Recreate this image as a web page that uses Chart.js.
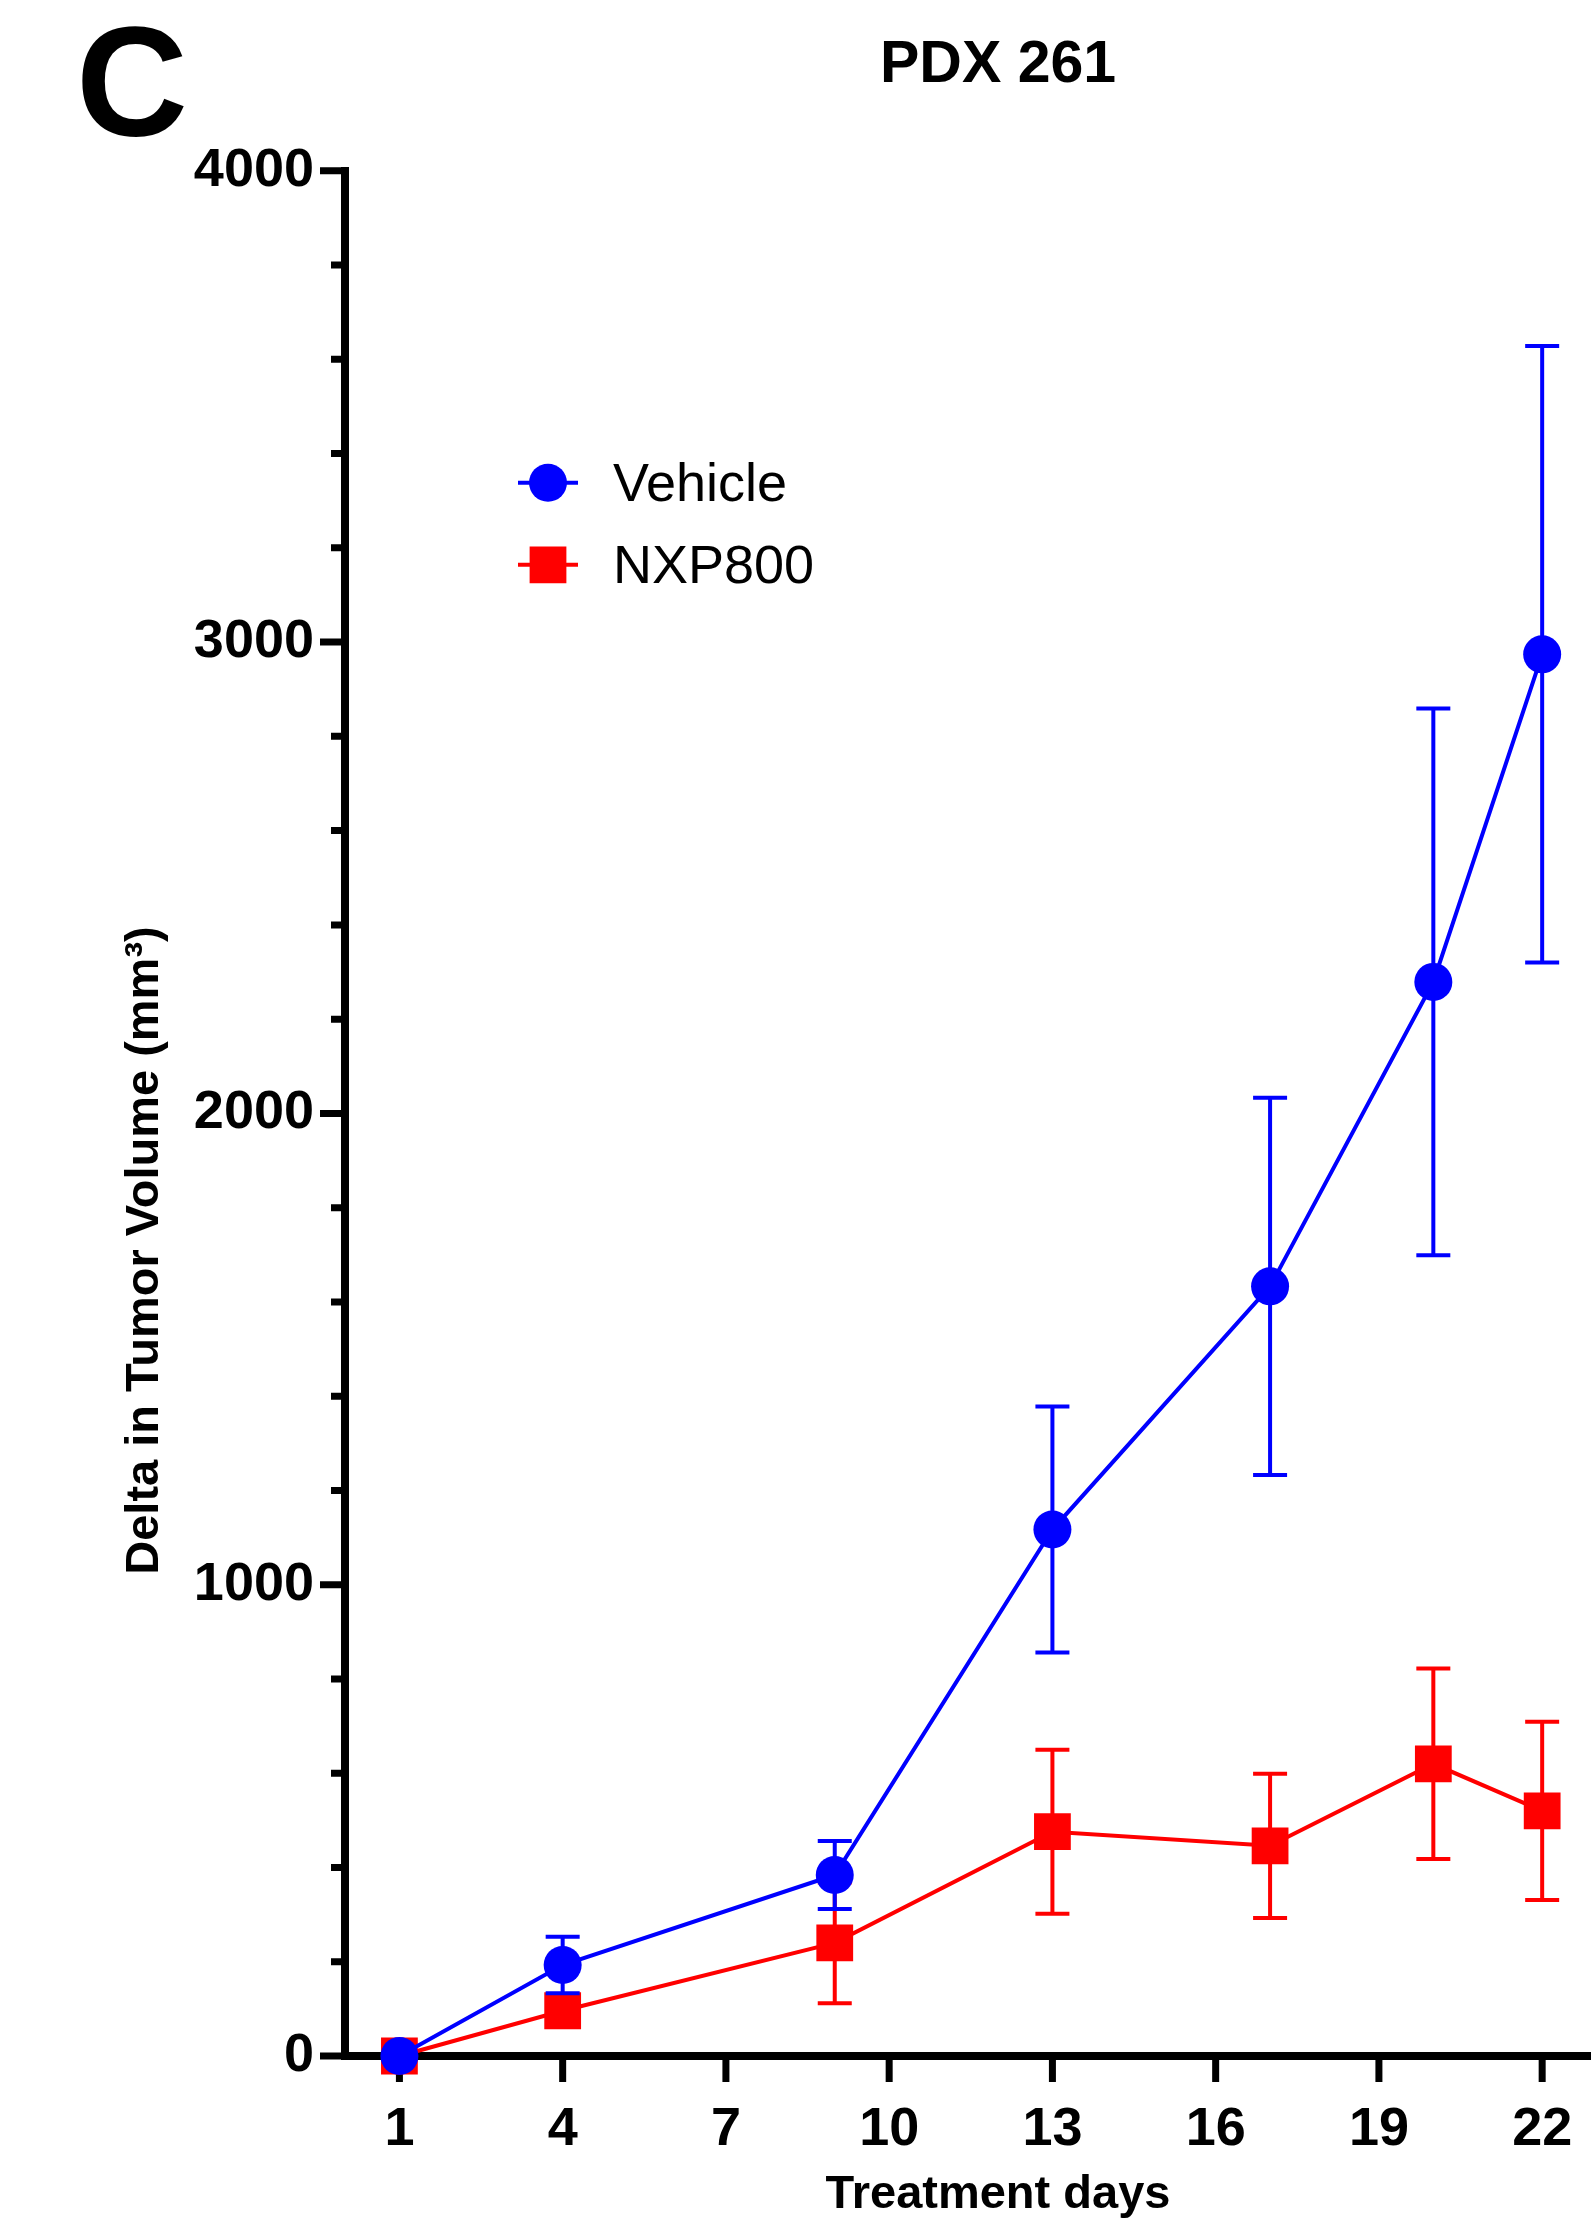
<!DOCTYPE html>
<html>
<head>
<meta charset="utf-8">
<title>PDX 261</title>
<script src="https://cdn.jsdelivr.net/npm/chart.js@4.4.1/dist/chart.umd.min.js"></script>
<style>
  html, body { margin: 0; padding: 0; background: #fff; overflow: hidden; }
  #wrap { position: relative; width: 1591px; height: 2224px; overflow: hidden; }
  #box { position: absolute; left: 0; top: 0; width: 1677px; height: 2224px; }
  #panel { position: absolute; left: 76px; top: 4px; font: bold 155px "Liberation Sans", Arial, sans-serif; line-height: 155px; color: #000; }
</style>
</head>
<body>
<div id="wrap">
  <div id="box"><canvas id="myChart"></canvas></div>
  <div id="panel">C</div>
</div>
<script>
var days = [1, 4, 9, 13, 17, 20, 22];
var vehicleMean = [0, 193, 384, 1117, 1633, 2279, 2974];
var vehicleSem = [0, 60, 72, 261, 400, 580, 654];
var nxpMean = [0, 96, 240, 476, 446, 620, 520];
var nxpSem = [0, 30, 128, 174, 153, 202, 189];
var xTicks = [1, 4, 7, 10, 13, 16, 19, 22];
var yTitle = 'Delta in Tumor Volume (mm³)';

Chart.defaults.font.family = '"Liberation Sans", Arial, sans-serif';
Chart.defaults.color = '#000';

function points(mean) {
     return days.map(function (d, i) { return { x: d, y: mean[i] }; });
}

// mean +/- SEM bars, drawn just before each dataset so its marker sits on top
var errorBars = {
     id: 'errorBars',
     beforeDatasetDraw: function (chart, args) {
          var ds = chart.data.datasets[args.index];
          var ys = chart.scales.y;
          var ctx = chart.ctx;
          ctx.save();
          ctx.strokeStyle = ds.borderColor;
          ctx.lineWidth = 4;
          args.meta.data.forEach(function (pt, i) {
               var e = ds.sem[i];
               if (!e) return;
               var top = ys.getPixelForValue(ds.data[i].y + e);
               var bot = ys.getPixelForValue(ds.data[i].y - e);
               ctx.beginPath();
               ctx.moveTo(pt.x, top); ctx.lineTo(pt.x, bot);
               ctx.moveTo(pt.x - 17, top); ctx.lineTo(pt.x + 17, top);
               ctx.moveTo(pt.x - 17, bot); ctx.lineTo(pt.x + 17, bot);
               ctx.stroke();
          });
          ctx.restore();
     }
};

// outside tick marks: long at labelled values, short in between
var axisTicks = {
     id: 'axisTicks',
     beforeDatasetsDraw: function (chart) {
          var ctx = chart.ctx, a = chart.chartArea;
          var xs = chart.scales.x, ys = chart.scales.y;
          ctx.save();
          ctx.strokeStyle = '#000';
          ctx.lineWidth = 7;
          ctx.beginPath();
          ys.ticks.forEach(function (t) {
               var py = ys.getPixelForValue(t.value);
               var len = t.value % 1000 === 0 ? 25 : 14;
               ctx.moveTo(a.left, py); ctx.lineTo(a.left - len, py);
          });
          xs.ticks.forEach(function (t) {
               var px = xs.getPixelForValue(t.value);
               ctx.moveTo(px, a.bottom); ctx.lineTo(px, a.bottom + 26);
          });
          ctx.stroke();
          ctx.restore();
     }
};

var insideLegend = {
     id: 'insideLegend',
     afterDraw: function (chart) {
          var ctx = chart.ctx, a = chart.chartArea;
          chart.data.datasets.forEach(function (ds, i) {
               var cx = a.left + 203, cy = a.top + 312 + i * 82;
               ctx.save();
               ctx.strokeStyle = ds.borderColor;
               ctx.fillStyle = ds.backgroundColor;
               ctx.lineWidth = 4;
               ctx.beginPath();
               ctx.moveTo(cx - 30, cy); ctx.lineTo(cx + 30, cy);
               ctx.stroke();
               Chart.helpers.drawPoint(ctx, { pointStyle: ds.pointStyle, radius: ds.pointRadius, borderWidth: 0, rotation: 0 }, cx, cy);
               ctx.fillStyle = '#000';
               ctx.font = '54px "Liberation Sans", Arial, sans-serif';
               ctx.textBaseline = 'middle';
               ctx.textAlign = 'left';
               ctx.fillText(ds.label, cx + 65, cy + 3);
               ctx.restore();
          });
     }
};

new Chart('myChart', {
     type: 'line',
     data: {
          datasets: [{
               label: 'Vehicle',
               data: points(vehicleMean),
               sem: vehicleSem,
               borderColor: '#0000ff',
               backgroundColor: '#0000ff',
               borderWidth: 4,
               pointStyle: 'circle',
               pointRadius: 19,
               pointHoverRadius: 19,
               pointBorderWidth: 0,
               tension: 0,
               clip: false
          }, {
               label: 'NXP800',
               data: points(nxpMean),
               sem: nxpSem,
               borderColor: '#ff0000',
               backgroundColor: '#ff0000',
               borderWidth: 4,
               pointStyle: 'rect',
               pointRadius: 26,
               pointHoverRadius: 26,
               pointBorderWidth: 0,
               tension: 0,
               clip: false
          }]
     },
     options: {
          responsive: true,
          maintainAspectRatio: false,
          animation: false,
          events: [],
          layout: { padding: 0 },
          plugins: {
               legend: { display: false },
               tooltip: { enabled: false },
               title: {
                    display: true,
                    text: 'PDX 261',
                    fullSize: false,
                    color: '#000',
                    font: { size: 59, weight: 'bold' },
                    padding: { top: 30, bottom: 70 }
               }
          },
          scales: {
               x: {
                    type: 'linear',
                    min: 0,
                    max: 24,
                    afterBuildTicks: function (scale) {
                         scale.ticks = xTicks.map(function (v) { return { value: v }; });
                    },
                    afterFit: function (scale) { scale.height = 168; },
                    grid: { display: false },
                    border: { display: true, color: '#000', width: 8 },
                    ticks: {
                         autoSkip: false,
                         maxRotation: 0,
                         padding: 34,
                         color: '#000',
                         font: { size: 54, weight: 'bold' }
                    },
                    title: {
                         display: true,
                         text: 'Treatment days',
                         color: '#000',
                         font: { size: 47, weight: 'bold' },
                         padding: { top: 0, bottom: 1 }
                    }
               },
               y: {
                    min: 0,
                    max: 4000,
                    afterFit: function (scale) { scale.width = 345; },
                    grid: { display: false },
                    border: { display: true, color: '#000', width: 8 },
                    ticks: {
                         stepSize: 200,
                         autoSkip: false,
                         padding: 23,
                         color: '#000',
                         font: { size: 54, weight: 'bold' },
                         callback: function (v) { return v % 1000 === 0 ? v : ''; }
                    },
                    title: {
                         display: true,
                         // trailing spaces push the centred title down along the axis, as in the figure
                         text: yTitle + '                     ',
                         color: '#000',
                         font: { size: 47, weight: 'bold' },
                         padding: { top: 117, bottom: 0 }
                    }
               }
          }
     },
     plugins: [errorBars, axisTicks, insideLegend]
});
</script>
</body>
</html>
